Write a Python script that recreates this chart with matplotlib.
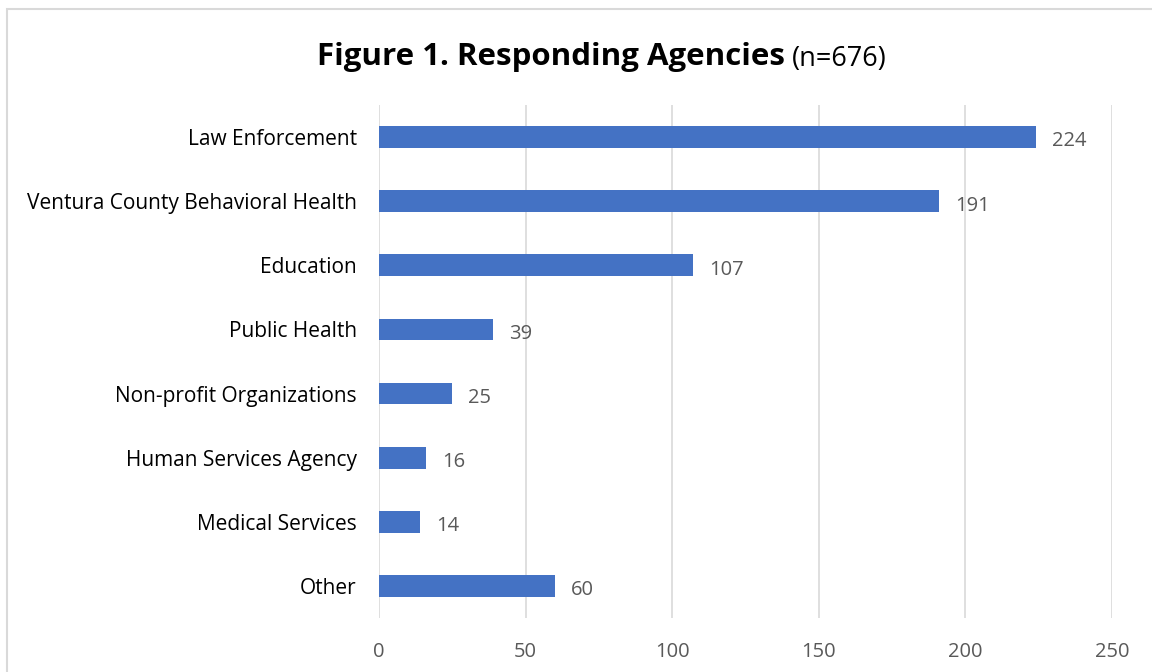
import matplotlib
matplotlib.use("Agg")
import matplotlib.pyplot as plt
from matplotlib.patches import Rectangle

# Data
categories = ["Law Enforcement", "Ventura County Behavioral Health", "Education",
              "Public Health", "Non-profit Organizations", "Human Services Agency",
              "Medical Services", "Other"]
counts = [224, 191, 107, 39, 25, 16, 14, 60]
x_ticks = [0, 50, 100, 150, 200, 250]

plt.rcParams['font.family'] = ['Open Sans', 'DejaVu Sans']

fig = plt.figure(figsize=(11.52, 6.72), dpi=100)
ax = fig.add_axes([0.329, 0.0804, 0.6363, 0.7634])

# Bars, top to bottom
y_pos = list(range(len(categories)))
ax.barh(y_pos, counts, height=0.34, color="#4472C4", zorder=3)
ax.set_ylim(len(categories) - 0.5, -0.5)
ax.set_yticks(y_pos)
ax.set_yticklabels(categories, fontsize=15, color="black")

# Value labels
for y, v in zip(y_pos, counts):
    ax.text(v + 5.5, y + 0.03, str(v), va="center_baseline", ha="left",
            fontsize=14.5, color="#595959")

ax.set_xlim(0, 250)
ax.set_xticks(x_ticks)
ax.tick_params(axis='x', labelsize=14.5, labelcolor="#595959", length=0, pad=17)
ax.tick_params(axis='y', length=0, pad=16)
ax.grid(axis='x', color="#D9D9D9", linewidth=1.2, zorder=0)
for side in ax.spines.values():
    side.set_visible(False)

# Title
fig.text(0.681, 0.915, "Figure 1. Responding Agencies", fontsize=22.5, fontweight="bold",
         ha="right", va="center")
fig.text(0.6875, 0.912, "(n=676)", fontsize=19.5, ha="left", va="center")

# Chart border
fig.patches.append(Rectangle((7 / 1152, -0.05), 1.1, 1.05 - 9 / 672,
                             transform=fig.transFigure, fill=False,
                             edgecolor="#D9D9D9", linewidth=1.5, clip_on=False))

fig.savefig("out.png", dpi=100)
